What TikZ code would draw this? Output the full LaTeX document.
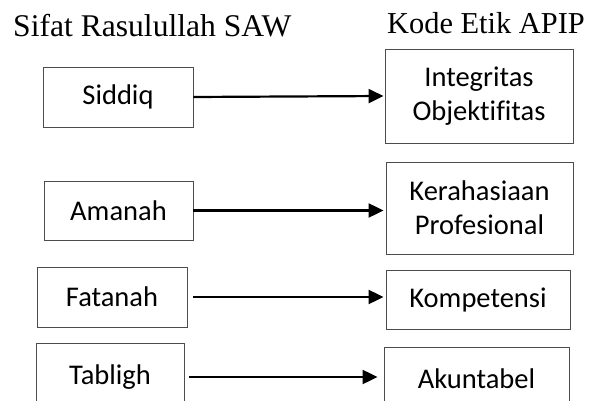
\documentclass[tikz,border=0pt]{standalone}
\usepackage{fontspec}
\setmainfont{Liberation Serif}
\newfontfamily\boxfont[Ligatures=NoCommon]{Carlito}
\usetikzlibrary{arrows.meta}
\begin{document}
\begin{tikzpicture}[x=1pt,y=-1pt,
  box/.style={draw=black!70, line width=0.9pt, inner sep=0pt, align=center,
    font=\boxfont\fontsize{28.5}{34}\selectfont},
  title/.style={anchor=base west, inner sep=0pt},
  conn/.style={line width=2.2pt, -{Triangle[length=15pt,width=14pt]}}]
\useasboundingbox (0,0) rectangle (595,401);
\clip (0,0) rectangle (595,401);
\node[title, font=\fontsize{31.6}{36}\selectfont] (tl) at (13,37) {Sifat Rasulullah SAW};
\node[title, font=\fontsize{30.4}{34}\selectfont] (tr) at (387,34) {Kode Etik APIP};
\node[box, minimum width=150pt, minimum height=60pt] (sid) at (118,97) {Siddiq};
\node[box, minimum width=188pt, minimum height=94pt] (int) at (479,96) {Integritas\\Objektifitas};
\node[box, minimum width=149pt, minimum height=59pt] (ama) at (118.5,210.5) {Amanah};
\node[box, minimum width=187pt, minimum height=92pt] (ker) at (479.5,208) {Kerahasiaan\\Profesional};
\node[box, minimum width=150pt, minimum height=60pt] (fat) at (112,297) {Fatanah};
\node[box, minimum width=184pt, minimum height=59pt] (kom) at (478,299.5) {Kompetensi};
\node[box, minimum width=148pt, minimum height=68pt] (tab) at (110,377) {\raisebox{5pt}{Tabligh}};
\node[box, minimum width=185pt, minimum height=64pt] (aku) at (476.5,379) {Akuntabel};
\draw[conn, shorten >=1pt] (sid.east) -- (int.west);
\draw[conn, shorten >=2pt] (ama.east) -- (ama.east -| ker.west);
\draw[conn, shorten <=6pt, shorten >=2pt] (fat.east) -- (fat.east -| kom.west);
\draw[conn, shorten <=5pt, shorten >=6pt] (tab.east) -- (tab.east -| aku.west);
\end{tikzpicture}
\end{document}
